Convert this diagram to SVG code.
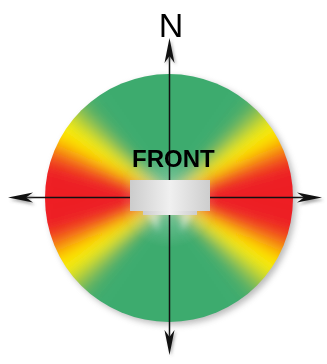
<svg xmlns="http://www.w3.org/2000/svg" xmlns:xlink="http://www.w3.org/1999/xlink" width="327" height="364" viewBox="0 0 327 364">
<style>
.axis{stroke:#111;stroke-width:1.5;fill:none}
.head{fill:#111}
.shadow{fill:#666;opacity:0.55}
.lbl{font-family:"Liberation Sans",Arial,sans-serif;fill:#000}
</style>
<defs>
<filter id="blur" x="-20%" y="-20%" width="140%" height="140%"><feGaussianBlur stdDeviation="7"/></filter>
<filter id="soft" x="-50%" y="-50%" width="200%" height="200%"><feGaussianBlur stdDeviation="1.6"/></filter>
<filter id="ghost" x="-50%" y="-50%" width="200%" height="200%"><feGaussianBlur stdDeviation="3"/></filter>
<filter id="dshadow" x="-20%" y="-20%" width="140%" height="140%"><feGaussianBlur stdDeviation="3"/></filter>
<clipPath id="disc-clip"><circle cx="169" cy="198" r="124"/></clipPath>
<g id="quad">
<path d="M0,0 L170,0 L169.35,-14.83 Z" fill="#ee1c24"/>
<path d="M0,0 L169.35,-14.83 L167.42,-29.52 Z" fill="#ee1c24"/>
<path d="M0,0 L167.42,-29.52 L164.21,-44.0 Z" fill="#ee1e22"/>
<path d="M0,0 L164.21,-44.0 L159.75,-58.14 Z" fill="#f03a1c"/>
<path d="M0,0 L159.75,-58.14 L154.07,-71.85 Z" fill="#f67a10"/>
<path d="M0,0 L154.07,-71.85 L147.22,-85.0 Z" fill="#fcc006"/>
<path d="M0,0 L147.22,-85.0 L139.26,-97.51 Z" fill="#fff000"/>
<path d="M0,0 L139.26,-97.51 L130.23,-109.27 Z" fill="#e0e214"/>
<path d="M0,0 L130.23,-109.27 L120.21,-120.21 Z" fill="#9cc83c"/>
<path d="M0,0 L120.21,-120.21 L109.27,-130.23 Z" fill="#5cb262"/>
<path d="M0,0 L109.27,-130.23 L97.51,-139.26 Z" fill="#40ac6c"/>
<path d="M0,0 L97.51,-139.26 L0,-170 Z" fill="#3cab6e"/>
</g>
<path id="arrow" d="M0,0 L5,25 L0,18 L-5,25 Z"/>
<linearGradient id="boxg" x1="0" y1="0" x2="1" y2="0">
<stop offset="0" stop-color="#cccccc"/>
<stop offset="0.5" stop-color="#f0f0f0"/>
<stop offset="1" stop-color="#cdcdcd"/>
</linearGradient>
<radialGradient id="glow" cx="169" cy="198" r="50" gradientUnits="userSpaceOnUse">
<stop offset="0" stop-color="#fff" stop-opacity="0.4"/>
<stop offset="1" stop-color="#fff" stop-opacity="0"/>
</radialGradient>
</defs>

<g id="disc">
<circle cx="172" cy="201" r="124" fill="#777" opacity="0.5" filter="url(#dshadow)"/>
<g clip-path="url(#disc-clip)">
<g filter="url(#blur)" transform="translate(169,198)">
<use xlink:href="#quad"/>
<use xlink:href="#quad" transform="scale(-1,1)"/>
<use xlink:href="#quad" transform="scale(1,-1)"/>
<use xlink:href="#quad" transform="scale(-1,-1)"/>
</g>
<circle cx="169" cy="198" r="50" fill="url(#glow)"/>
</g>
</g>

<g id="connectors">
<line class="axis" x1="169.5" y1="50" x2="169.5" y2="344"/>
<line class="axis" x1="20" y1="197.5" x2="315" y2="197.5"/>
<g filter="url(#soft)">
<use xlink:href="#arrow" class="shadow" transform="translate(171,40)"/>
<use xlink:href="#arrow" class="shadow" transform="translate(171,356) rotate(180)"/>
<use xlink:href="#arrow" class="shadow" transform="translate(10,200) rotate(-90)"/>
<use xlink:href="#arrow" class="shadow" transform="translate(324,200) rotate(90)"/>
</g>
<use xlink:href="#arrow" class="head" transform="translate(169.5,38)"/>
<use xlink:href="#arrow" class="head" transform="translate(169.5,355) rotate(180)"/>
<use xlink:href="#arrow" class="head" transform="translate(8,197.5) rotate(-90)"/>
<use xlink:href="#arrow" class="head" transform="translate(322,197.5) rotate(90)"/>
</g>

<g id="device">
<g filter="url(#ghost)" fill="#fff" opacity="0.45">
<path d="M146,212 L160,212 L158,232 Z"/>
<path d="M180,212 L194,212 L182,232 Z"/>
</g>
<rect x="143" y="204" width="54" height="11" fill="url(#boxg)"/>
<rect x="130" y="180" width="80" height="31" fill="url(#boxg)"/>
</g>

<g id="front-label">
<text class="lbl" x="132" y="167" font-size="24" font-weight="bold">FRONT</text>
</g>

<g id="north-label">
<text class="lbl" x="171" y="37" font-size="34" text-anchor="middle">N</text>
</g>
</svg>
